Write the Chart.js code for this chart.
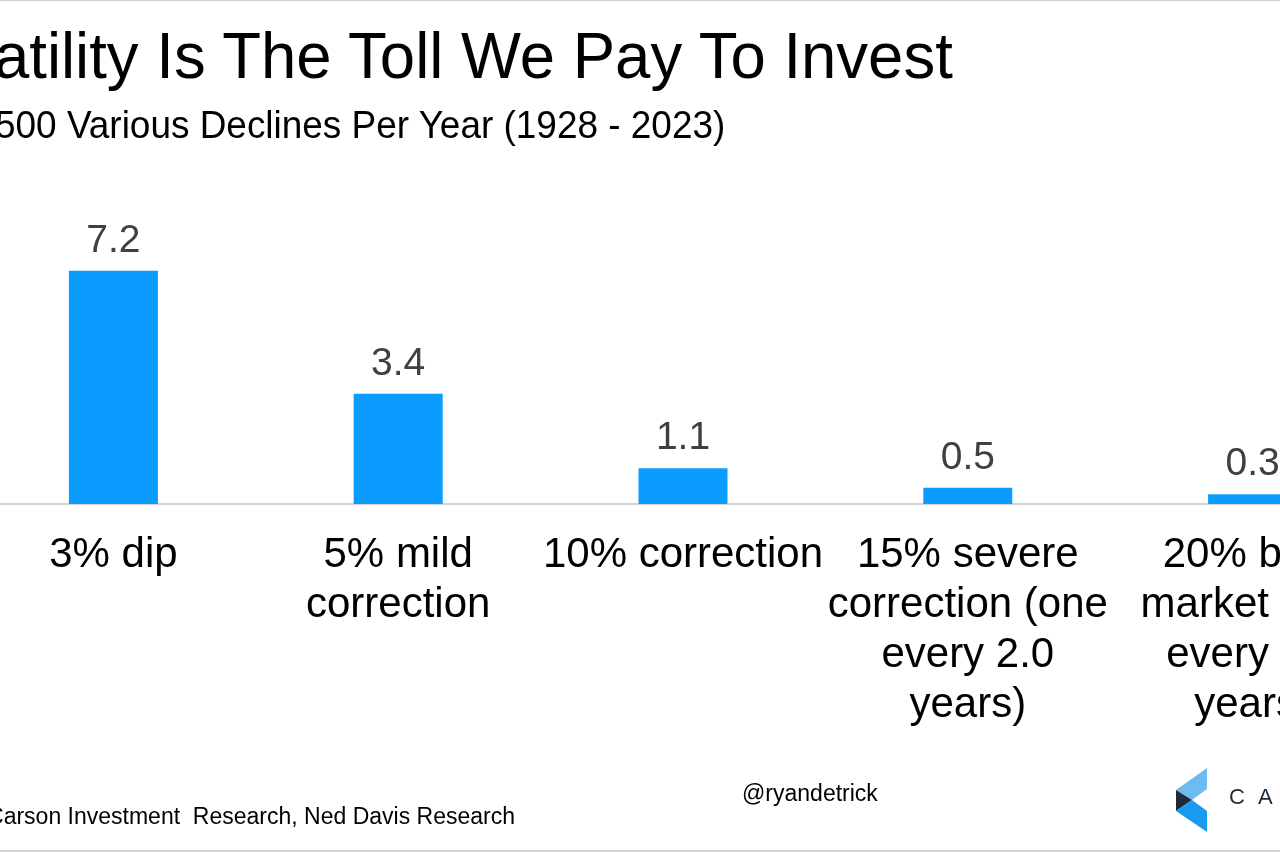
<!DOCTYPE html>
<html>
<head>
<meta charset="utf-8">
<script src="https://cdn.jsdelivr.net/npm/chart.js@4.4.0/dist/chart.umd.min.js"></script>
<style>
  html, body { margin:0; padding:0; background:#fff; width:1280px; height:853px; overflow:hidden; position:relative; font-family:"Liberation Sans", Arial, sans-serif; }
  .txt { position:absolute; white-space:nowrap; line-height:1; color:#000; }
  #title { top:23px; right:327px; font-size:65px; text-align:right; transform:scaleX(0.977); transform-origin:right center; }
  #subtitle { top:105px; right:555px; font-size:39px; transform:scaleX(0.947); transform-origin:right center; }
  #source { top:805px; right:765px; font-size:23px; }
  #handle { top:782px; left:742px; font-size:23px; }
  #brand { top:786px; left:1229px; font-size:22px; letter-spacing:13px; color:#1c2b3a; }
  #wrap { position:absolute; left:-200px; top:0; width:1700px; height:853px; }
  #topline { position:absolute; left:0; top:0; width:1280px; height:1px; background:#d0d0d0; }
  #botline { position:absolute; left:0; top:850px; width:1280px; height:2px; background:#d0d0d0; }
  #logo { position:absolute; left:0; top:0; }
</style>
</head>
<body>
<div id="wrap"><canvas id="c"></canvas></div>
<div id="topline"></div>
<div id="botline"></div>
<div class="txt" id="title">Volatility Is The Toll We Pay To Invest</div>
<div class="txt" id="subtitle">S&amp;P 500 Various Declines Per Year (1928 - 2023)</div>
<div class="txt" id="source">Source: Carson Investment&nbsp; Research, Ned Davis Research</div>
<div class="txt" id="handle">@ryandetrick</div>
<svg id="logo" width="1280" height="853">
  <polygon points="1176,790 1207,768 1207,789 1192,800" fill="#6cbcf2"/>
  <polygon points="1176,790 1192,800 1176,811" fill="#1b2a3d"/>
  <polygon points="1176,811 1192,800 1207,811 1207,832" fill="#1a9bf2"/>
</svg>
<div class="txt" id="brand">CARSON</div>
<script>
const categories = [
  ["3% dip"],
  ["5% mild", "correction"],
  ["10% correction"],
  ["15% severe", "correction (one", "every 2.0", "years)"],
  ["20% bear", "market (one", "every 3.6", "years)"]
];
const declinesPerYear = [7.2, 3.4, 1.1, 0.5, 0.3];

const valueLabels = {
  id: 'valueLabels',
  afterDatasetsDraw(chart) {
    const ctx = chart.ctx;
    const meta = chart.getDatasetMeta(0);
    ctx.save();
    ctx.font = '39px "Liberation Sans", Arial, sans-serif';
    ctx.fillStyle = '#404040';
    ctx.textAlign = 'center';
    ctx.textBaseline = 'alphabetic';
    meta.data.forEach((bar, i) => {
      ctx.fillText(declinesPerYear[i].toFixed(1), bar.x, bar.y - 19);
    });
    ctx.restore();
  }
};

new Chart(document.getElementById('c'), {
  type: 'bar',
  data: {
    labels: categories,
    datasets: [{
      data: declinesPerYear,
      backgroundColor: '#0a9dff',
      borderWidth: 0,
      barPercentage: 0.3126,
      categoryPercentage: 1.0
    }]
  },
  options: {
    responsive: true,
    maintainAspectRatio: false,
    animation: false,
    layout: { padding: { left: 171, right: 105, top: 180, bottom: 99 } },
    plugins: { legend: { display: false }, tooltip: { enabled: false } },
    scales: {
      x: {
        grid: { display: false, drawTicks: false },
        border: { display: true, color: '#d4d4d4', width: 2 },
        ticks: {
          color: '#000',
          font: { family: '"Liberation Sans", Arial, sans-serif', size: 42, lineHeight: 50/42 },
          padding: 26,
          autoSkip: false,
          maxRotation: 0,
          minRotation: 0
        },
        afterFit(scale) { scale.height = 250; }
      },
      y: {
        display: false,
        min: 0,
        max: 10
      }
    }
  },
  plugins: [valueLabels]
});
</script>
</body>
</html>
